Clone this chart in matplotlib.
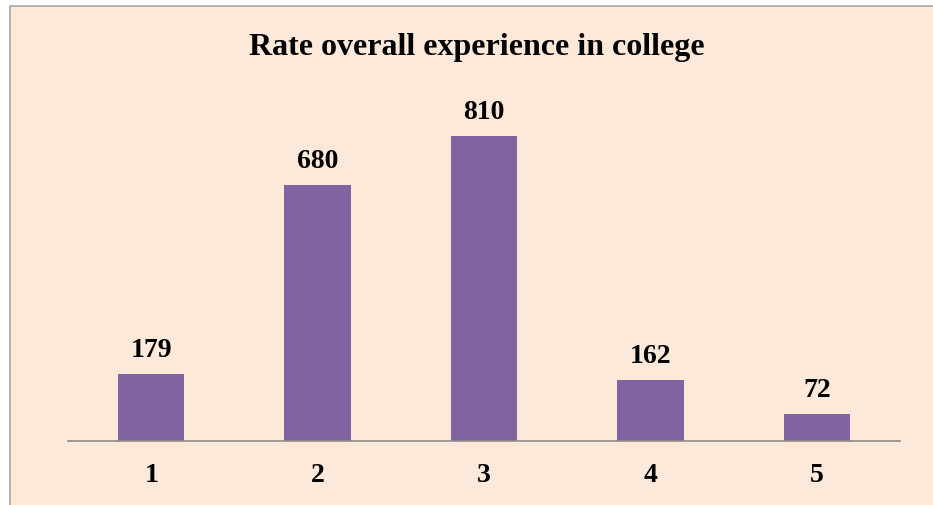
import matplotlib
matplotlib.use("Agg")
import matplotlib.pyplot as plt
from matplotlib.patches import Rectangle

categories = ["1", "2", "3", "4", "5"]
values = [179, 680, 810, 162, 72]
title = "Rate overall experience in college"

W, H = 933, 506
fig = plt.figure(figsize=(W/100, H/100), dpi=100, facecolor="white")
bg = "#FDE9D9"
fig.patches.append(Rectangle((9.5/W, -0.1), 1.2, 1 - 6.5/H + 0.1, transform=fig.transFigure,
                             facecolor=bg, edgecolor="#A6A6A6", linewidth=1.2, zorder=-5))

ax = fig.add_axes([68/W, 1 - 442/H, (900-68)/W, (442-103)/H])
ax.set_zorder(1)
ax.set_facecolor("none")
x = range(len(categories))
bars = ax.bar(x, values, width=0.4, color="#8064A2", zorder=2)
ax.set_xlim(-0.5, len(categories) - 0.5)
ax.set_ylim(0, 900)
for xi, v in zip(x, values):
    ax.annotate(str(v), (xi, v), xytext=(0, 13), textcoords="offset points",
                ha="center", va="baseline", fontsize=20,
                fontweight="bold", family="Liberation Serif")
ax.set_xticks(list(x))
ax.set_xticklabels(categories, fontsize=20, fontweight="bold", family="Liberation Serif")
ax.tick_params(axis="x", length=0, pad=15)
ax.set_yticks([])
for s in ["top", "right", "left"]:
    ax.spines[s].set_visible(False)
ax.spines["bottom"].set_color("#8C8C8C")
ax.spines["bottom"].set_linewidth(1.2)
fig.text(477/W, 1 - 55/H, title, ha="center", va="baseline", fontsize=23,
         fontweight="bold", family="Liberation Serif")
fig.savefig("out.png", dpi=100, facecolor="white")
